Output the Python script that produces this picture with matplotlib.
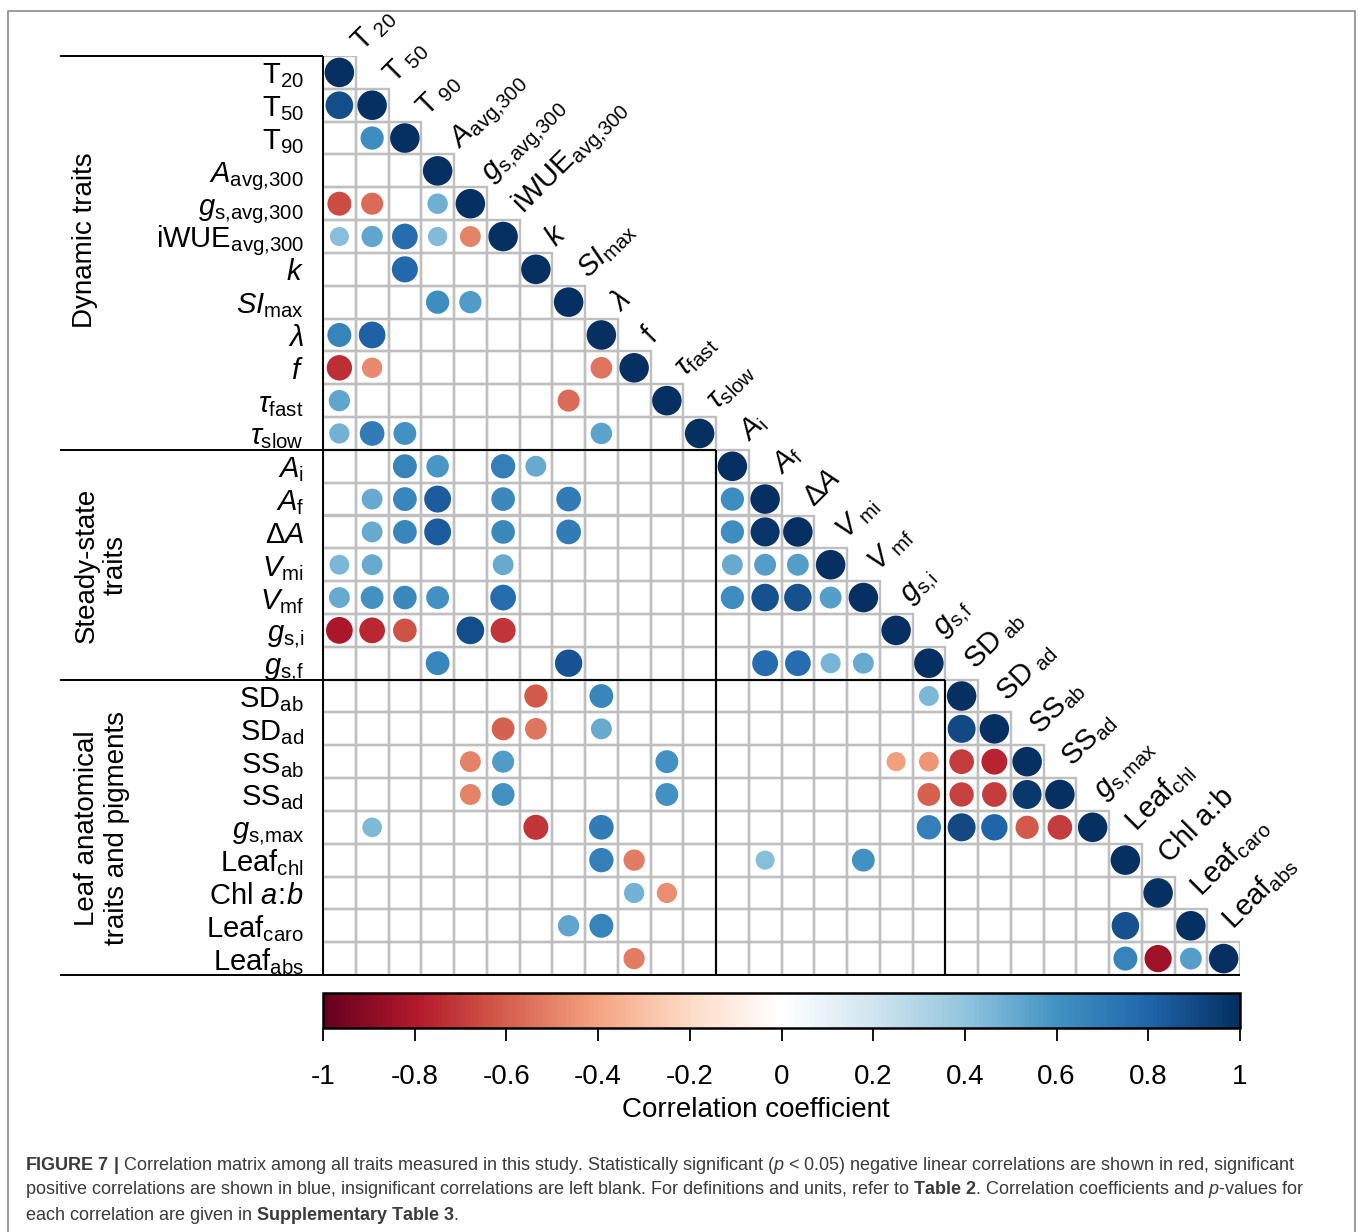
import numpy as np
import matplotlib
matplotlib.use("Agg")
import matplotlib.pyplot as plt
from matplotlib.colors import LinearSegmentedColormap, Normalize
from matplotlib.cm import ScalarMappable
from matplotlib.patches import Circle, Rectangle
from matplotlib.lines import Line2D

plt.rcParams["font.family"] = ["Liberation Sans", "DejaVu Sans"]
plt.rcParams["mathtext.fontset"] = "custom"
plt.rcParams["mathtext.rm"] = "Liberation Sans"
plt.rcParams["mathtext.it"] = "Liberation Sans:italic"
plt.rcParams["mathtext.bf"] = "Liberation Sans:bold"

# ---------------------------------------------------------------- data
row_labels = [
    r"$\mathrm{T}_{20}$", r"$\mathrm{T}_{50}$", r"$\mathrm{T}_{90}$",
    r"$A_{\mathrm{avg{,}300}}$", r"$g_{\mathrm{s{,}avg{,}300}}$",
    r"$\mathrm{iWUE}_{\mathrm{avg{,}300}}$",
    r"$k$", r"$SI_{\mathrm{max}}$", r"$\lambda$", r"$f$",
    r"$\tau_{\mathrm{fast}}$", r"$\tau_{\mathrm{slow}}$",
    r"$A_{\mathrm{i}}$", r"$A_{\mathrm{f}}$", r"$\mathit{\Delta A}$",
    r"$V_{\mathrm{mi}}$", r"$V_{\mathrm{mf}}$", r"$g_{\mathrm{s{,}i}}$", r"$g_{\mathrm{s{,}f}}$",
    r"$\mathrm{SD}_{\mathrm{ab}}$", r"$\mathrm{SD}_{\mathrm{ad}}$",
    r"$\mathrm{SS}_{\mathrm{ab}}$", r"$\mathrm{SS}_{\mathrm{ad}}$", r"$g_{\mathrm{s{,}max}}$",
    r"$\mathrm{Leaf}_{\mathrm{chl}}$", r"$\mathrm{Chl}\ a\!:\!b$",
    r"$\mathrm{Leaf}_{\mathrm{caro}}$", r"$\mathrm{Leaf}_{\mathrm{abs}}$",
]
col_labels = [
    r"$\mathrm{T}_{\ 20}$", r"$\mathrm{T}_{\ 50}$", r"$\mathrm{T}_{\ 90}$",
    r"$A_{\mathrm{avg{,}300}}$", r"$g_{\mathrm{s{,}avg{,}300}}$",
    r"$\mathrm{iWUE}_{\mathrm{avg{,}300}}$",
    r"$k$", r"$SI_{\mathrm{max}}$", r"$\lambda$", r"$\mathrm{f}$",
    r"$\tau_{\mathrm{fast}}$", r"$\tau_{\mathrm{slow}}$",
    r"$A_{\mathrm{i}}$", r"$A_{\mathrm{f}}$", r"$\mathit{\Delta A}$",
    r"$V_{\ \mathrm{mi}}$", r"$V_{\ \mathrm{mf}}$", r"$g_{\mathrm{s{,}i}}$", r"$g_{\mathrm{s{,}f}}$",
    r"$\mathrm{SD}_{\ \mathrm{ab}}$", r"$\mathrm{SD}_{\ \mathrm{ad}}$",
    r"$\mathrm{SS}_{\mathrm{ab}}$", r"$\mathrm{SS}_{\mathrm{ad}}$", r"$g_{\mathrm{s{,}max}}$",
    r"$\mathrm{Leaf}_{\mathrm{chl}}$", r"$\mathrm{Chl\ a\!:\!b}$",
    r"$\mathrm{Leaf}_{\mathrm{caro}}$", r"$\mathrm{Leaf}_{\mathrm{abs}}$",
]
group_names = ["Dynamic traits", "Steady-state\ntraits",
               "Leaf anatomical\ntraits and pigments"]
group_sizes = [12, 7, 9]

# significant correlations, lower triangle: row trait, column trait, r
pair_row = [
    1,
    2,
    4, 4, 4,
    5, 5, 5, 5, 5,
    6,
    7, 7,
    8, 8,
    9, 9, 9,
    10, 10,
    11, 11, 11, 11,
    12, 12, 12, 12,
    13, 13, 13, 13, 13, 13,
    14, 14, 14, 14, 14, 14, 14,
    15, 15, 15, 15, 15, 15,
    16, 16, 16, 16, 16, 16, 16, 16, 16,
    17, 17, 17, 17, 17,
    18, 18, 18, 18, 18, 18,
    19, 19, 19,
    20, 20, 20, 20,
    21, 21, 21, 21, 21, 21, 21,
    22, 22, 22, 22, 22, 22, 22,
    23, 23, 23, 23, 23, 23, 23, 23,
    24, 24, 24, 24,
    25, 25,
    26, 26, 26,
    27, 27, 27, 27,
]
pair_col = [
    0,
    1,
    0, 1, 3,
    0, 1, 2, 3, 4,
    2,
    3, 4,
    0, 1,
    0, 1, 8,
    0, 7,
    0, 1, 2, 8,
    2, 3, 5, 6,
    1, 2, 3, 5, 7, 12,
    1, 2, 3, 5, 7, 12, 13,
    0, 1, 5, 12, 13, 14,
    0, 1, 2, 3, 5, 12, 13, 14, 15,
    0, 1, 2, 4, 5,
    3, 7, 13, 14, 15, 16,
    6, 8, 18,
    5, 6, 8, 19,
    4, 5, 10, 17, 18, 19, 20,
    4, 5, 10, 18, 19, 20, 21,
    1, 6, 8, 18, 19, 20, 21, 22,
    8, 9, 13, 16,
    9, 10,
    7, 8, 24,
    9, 24, 25, 26,
]
pair_r = [
    0.88,
    0.62,
    -0.66, -0.56, 0.48,
    0.42, 0.52, 0.76, 0.43, -0.50,
    0.78,
    0.62, 0.57,
    0.66, 0.82,
    -0.74, -0.48, -0.54,
    0.52, -0.56,
    0.47, 0.70, 0.60, 0.53,
    0.66, 0.58, 0.68, 0.50,
    0.50, 0.65, 0.83, 0.64, 0.70, 0.62,
    0.50, 0.65, 0.83, 0.64, 0.70, 0.62, 0.97,
    0.45, 0.50, 0.50, 0.50, 0.55, 0.55,
    0.50, 0.60, 0.64, 0.60, 0.76, 0.62, 0.87, 0.87, 0.55,
    -0.82, -0.76, -0.64, 0.88, -0.72,
    0.65, 0.86, 0.77, 0.76, 0.46, 0.50,
    -0.62, 0.65, 0.45,
    -0.60, -0.54, 0.50, 0.90,
    -0.50, 0.56, 0.60, -0.42, -0.45, -0.70, -0.77,
    -0.50, 0.60, 0.60, -0.60, -0.68, -0.70, 0.96,
    0.44, -0.72, 0.70, 0.68, 0.90, 0.80, -0.62, -0.70,
    0.68, -0.52, 0.42, 0.60,
    0.47, -0.47,
    0.52, 0.66, 0.87,
    -0.52, 0.66, -0.85, 0.55,
]
diag_r = [1.0] * len(row_labels)

cbar_ticks = [-1, -0.8, -0.6, -0.4, -0.2, 0, 0.2, 0.4, 0.6, 0.8, 1]
cbar_ticklabels = ["-1", "-0.8", "-0.6", "-0.4", "-0.2", "0",
                   "0.2", "0.4", "0.6", "0.8", "1"]

# ---------------------------------------------------------------- style
W, H = 1358, 1232
n = len(row_labels)
cmap = LinearSegmentedColormap.from_list(
    "corr_rdbu",
    ["#67001F", "#B2182B", "#D6604D", "#F4A582", "#FDDBC7", "#FFFFFF",
     "#D1E5F0", "#92C5DE", "#4393C3", "#2166AC", "#053061"], N=200)
norm = Normalize(-1, 1)


def fx(px):
    return px / W


def fy(py):
    return 1 - py / H


fig = plt.figure(figsize=(W / 100, H / 100), dpi=100)

gl, gr, gt, gb = 323, 1240, 56, 975
ax = fig.add_axes([fx(gl), fy(gb), (gr - gl) / W, (gb - gt) / H])
ax.set_xlim(0, n)
ax.set_ylim(n, 0)
ax.axis("off")

# cell borders of the lower triangle
for i in range(n):
    for j in range(i + 1):
        ax.add_patch(Rectangle((j, i), 1, 1, fill=False, ec="#bfbfbf",
                               lw=1.7, zorder=1))

# circles: area proportional to |r|
def draw_circle(i, j, r):
    ax.add_patch(Circle((j + 0.5, i + 0.5), 0.45 * np.sqrt(abs(r)),
                        fc=cmap(norm(r)), ec="none", zorder=3))


for i, r in enumerate(diag_r):
    draw_circle(i, i, r)
for i, j, r in zip(pair_row, pair_col, pair_r):
    draw_circle(i, j, r)

# group separators
left_ext = (60 - gl) / ((gr - gl) / n)
bounds = np.cumsum([0] + group_sizes)
lk = dict(color="black", lw=1.4, clip_on=False, zorder=4,
          solid_capstyle="butt")
ax.plot([left_ext, 0], [0, 0], **lk)
ax.plot([0, 0], [0, n], **lk)
for b in bounds[1:-1]:
    ax.plot([left_ext, b], [b, b], **lk)
    ax.plot([b, b], [b, n], **lk)
ax.plot([left_ext, n], [n, n], **lk)

# row labels
for i, lab in enumerate(row_labels):
    ax.text(-0.58, i + 0.5 + 0.34, lab, ha="right", va="baseline",
            fontsize=21, clip_on=False)

# diagonal column labels
for j, lab in enumerate(col_labels):
    t = j / (n - 1)
    ax.text(j + 0.8 + 0.4 * (1 - t), j - 0.12 - 0.25 * t, lab,
            ha="left", va="baseline", rotation=45, rotation_mode="anchor",
            fontsize=21, clip_on=False)

# group titles
group_pos = [(85, 240), (101, 565), (102, 828)]
for name, (px, py) in zip(group_names, group_pos):
    fig.text(fx(px), fy(py), name, rotation=90, ha="center", va="center",
             fontsize=20, linespacing=1.15, multialignment="center")

# colour bar
cax = fig.add_axes([fx(gl), fy(1028), (gr - gl) / W, 35 / H])
cb = fig.colorbar(ScalarMappable(norm=norm, cmap=cmap), cax=cax,
                  orientation="horizontal", ticks=cbar_ticks)
cb.set_ticklabels(cbar_ticklabels)
cb.outline.set_linewidth(1.8)
cax.tick_params(direction="out", length=9, width=1.3, pad=17,
                labelsize=20)
fig.text(fx(756), fy(1110), "Correlation coefficient", ha="center",
         va="center", fontsize=20)

# panel frame
fig.add_artist(Line2D([fx(8), fx(8), fx(1355), fx(1355)],
                      [fy(1260), fy(11), fy(11), fy(1260)],
                      transform=fig.transFigure, color="#8a8a8a", lw=1.2))

# caption
cap = [
    r"$\mathbf{FIGURE\ 7\ |}$ Correlation matrix among all traits measured in this study. "
    r"Statistically significant ($\mathit{p}$ < 0.05) negative linear correlations are shown in red, significant",
    r"positive correlations are shown in blue, insignificant correlations are left blank. "
    r"For definitions and units, refer to $\mathbf{Table\ 2}$. Correlation coefficients and $\mathit{p}$-values for",
    r"each correlation are given in $\mathbf{Supplementary\ Table\ 3}$.",
]
for k, line in enumerate(cap):
    fig.text(fx(25), fy(1165 + 25 * k), line, ha="left", va="center",
             fontsize=12.95, color="#3a3a3a")

fig.savefig("out.png", dpi=100)
